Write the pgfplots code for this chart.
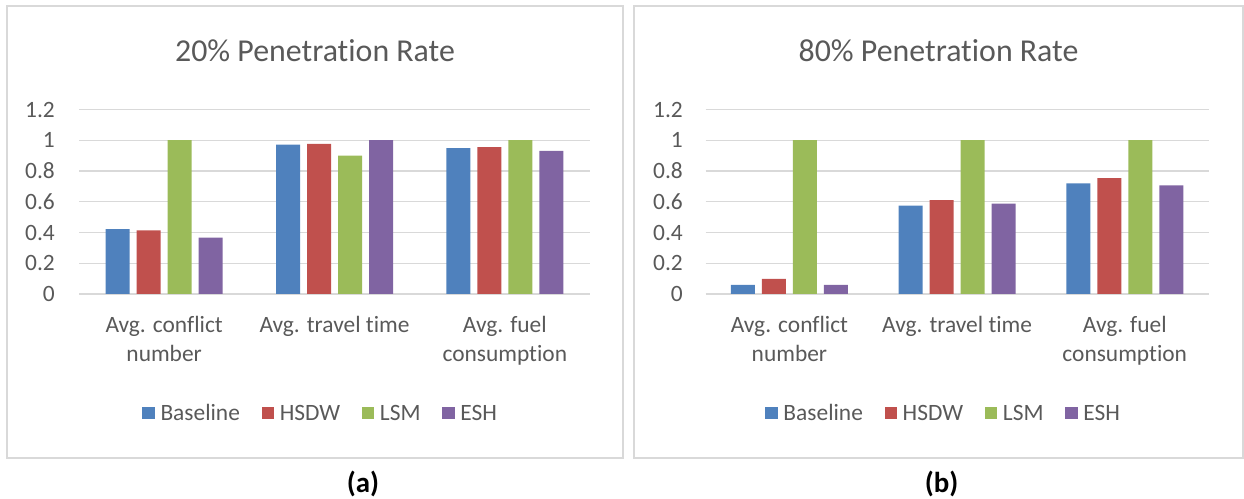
\documentclass[border=0pt]{standalone}
\usepackage{fontspec}
\setmainfont[Ligatures={NoCommon}]{Carlito}
\usepackage{pgfplots}
\usepackage{pgfplotstable}
\pgfplotsset{compat=1.18}
\definecolor{cBlue}{HTML}{4F81BD}
\definecolor{cRed}{HTML}{C0504D}
\definecolor{cGreen}{HTML}{9BBB59}
\definecolor{cPurple}{HTML}{8064A2}
\definecolor{txt}{HTML}{595959}
\definecolor{grd}{HTML}{D9D9D9}

\pgfplotstableread{
x base hsdw lsm esh
0 0.422 0.413 1 0.366
1 0.972 0.976 0.900 1
2 0.948 0.955 1 0.931
}\tabA
\pgfplotstableread{
x base hsdw lsm esh
0 0.059 0.098 1 0.059
1 0.575 0.611 1 0.587
2 0.719 0.754 1 0.706
}\tabB

\pgfplotsset{
  panel/.style={
    scale only axis, height=184.5bp,
    xmin=-0.5, xmax=2.5, ymin=0, ymax=1.2,
    ybar=7bp, bar width=24bp,
    axis line style={draw=none}, major tick length=0pt,
    ymajorgrids, grid style={draw=grd, line width=1.3bp},
    ytick={0,0.2,0.4,0.6,0.8,1,1.2},
    yticklabels={0,0.2,0.4,0.6,0.8,1,1.2},
    xtick={0,1,2},
    xticklabels={{Avg. conflict\\number},{Avg. travel time},{Avg. fuel\\consumption}},
    xticklabel style={align=center, font=\fontsize{23.5}{29}\selectfont, text=txt, inner sep=0pt, anchor=north, yshift=-22bp},
    yticklabel style={font=\fontsize{23.5}{28}\selectfont, text=txt, inner sep=0pt, anchor=east},
    legend columns=4,
    legend style={draw=none, fill=none, inner sep=0pt, outer sep=0pt,
      font=\fontsize{23.5}{28}\selectfont, text=txt, column sep=0pt,
      nodes={inner sep=0pt, text height=16.5bp, text depth=0pt, text=txt},
      cells={anchor=west}, anchor=west},
    every axis plot post/.append style={
      legend image code/.code={
        \path[draw=none, fill=none] (-21.6bp,0bp) -- (18.2bp,0bp);
        \fill[##1, draw=none] (0bp,-6.5bp) rectangle (12.5bp,5.7bp);
      }},
  }
}

\begin{document}
\begin{tikzpicture}
\path[use as bounding box] (0,0) rectangle (1244bp,499bp);
\draw[grd, line width=1.5bp] (7bp,41bp) rectangle (623bp,493bp);
\draw[grd, line width=1.5bp] (634bp,41bp) rectangle (1243bp,493bp);

\begin{axis}[panel, width=511bp, at={(79bp,205bp)}, anchor=south west,
  yticklabel style={xshift=-24bp},
  legend style={at={(0.0816,-0.642)}}]
\addplot[fill=cBlue, draw=none] table[x=x,y=base]{\tabA};
\addplot[fill=cRed, draw=none] table[x=x,y=hsdw]{\tabA};
\addplot[fill=cGreen, draw=none] table[x=x,y=lsm]{\tabA};
\addplot[fill=cPurple, draw=none] table[x=x,y=esh]{\tabA};
\legend{Baseline,HSDW,LSM,ESH}
\end{axis}

\begin{axis}[panel, width=503bp, at={(705.6bp,205bp)}, anchor=south west,
  yticklabel style={xshift=-22.6bp},
  legend style={at={(0.0757,-0.642)}}]
\addplot[fill=cBlue, draw=none] table[x=x,y=base]{\tabB};
\addplot[fill=cRed, draw=none] table[x=x,y=hsdw]{\tabB};
\addplot[fill=cGreen, draw=none] table[x=x,y=lsm]{\tabB};
\addplot[fill=cPurple, draw=none] table[x=x,y=esh]{\tabB};
\legend{Baseline,HSDW,LSM,ESH}
\end{axis}

\node[anchor=base, font=\fontsize{32}{37}\selectfont, text=txt] at (315bp,437bp) {20\% Penetration Rate};
\node[anchor=base, font=\fontsize{32}{37}\selectfont, text=txt] at (938.5bp,437bp) {80\% Penetration Rate};
\node[anchor=base, font=\bfseries\fontsize{29}{34}\selectfont] at (363bp,7bp) {(a)};
\node[anchor=base, font=\bfseries\fontsize{29}{34}\selectfont] at (941.7bp,7bp) {(b)};
\end{tikzpicture}
\end{document}
